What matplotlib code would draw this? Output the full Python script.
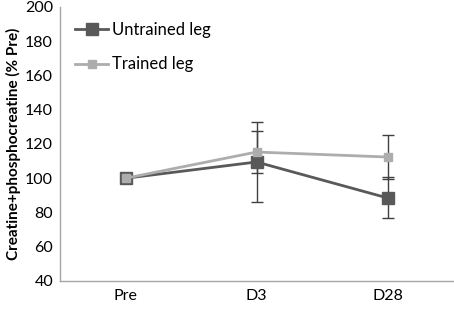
import matplotlib
matplotlib.use("Agg")
import matplotlib.pyplot as plt
import numpy as np

categories = ["Pre", "D3", "D28"]
untrained = [100, 109.5, 88.5]
untrained_err = [0, 23.5, 12]
trained = [100, 115.3, 112.4]
trained_err = [0, 12, 13]
yticks = [40, 60, 80, 100, 120, 140, 160, 180, 200]

plt.rcParams['font.family'] = ['Lato', 'DejaVu Sans']

fig = plt.figure(figsize=(4.54, 3.09), dpi=100)
ax = fig.add_axes([60/454, 28/309, 393/454, 274/309])

x = np.arange(len(categories)) + 0.5
dark = "#595959"
light = "#ADADAD"

ax.errorbar(x[1:], untrained[1:], yerr=untrained_err[1:], fmt='none', ecolor="#404040",
            elinewidth=1, capsize=4, capthick=1, zorder=2)
ax.errorbar(x[1:], trained[1:], yerr=trained_err[1:], fmt='none', ecolor="#404040",
            elinewidth=1, capsize=4, capthick=1, zorder=2)
ax.plot(x, untrained, color=dark, lw=2, marker='s', ms=8.5, mfc=dark, mec=dark,
        label="Untrained leg", zorder=3)
ax.plot(x, trained, color=light, lw=2, marker='s', ms=5.8, mfc=light, mec=light,
        label="Trained leg", zorder=4)

ax.set_xlim(0, 3)
ax.set_ylim(40, 200)
ax.set_yticks(yticks)
ax.set_xticks(x)
ax.set_xticklabels(categories)
ax.tick_params(length=0, labelsize=11.5, colors="#000000")
ax.tick_params(axis='x', pad=6)
ax.tick_params(axis='y', pad=5)
for s in ["top", "right"]:
    ax.spines[s].set_visible(False)
for s in ["left", "bottom"]:
    ax.spines[s].set_color("#A6A6A6")
    ax.spines[s].set_linewidth(1)

ax.set_ylabel("Creatine+phosphocreatine (% Pre)", fontsize=11, fontweight='bold', labelpad=3)

ax.legend(loc='upper left', bbox_to_anchor=(0.0, 1.0), frameon=False, fontsize=12,
          handlelength=2.0, labelspacing=1.1, handletextpad=0.2)

fig.savefig("out.png", dpi=100)
